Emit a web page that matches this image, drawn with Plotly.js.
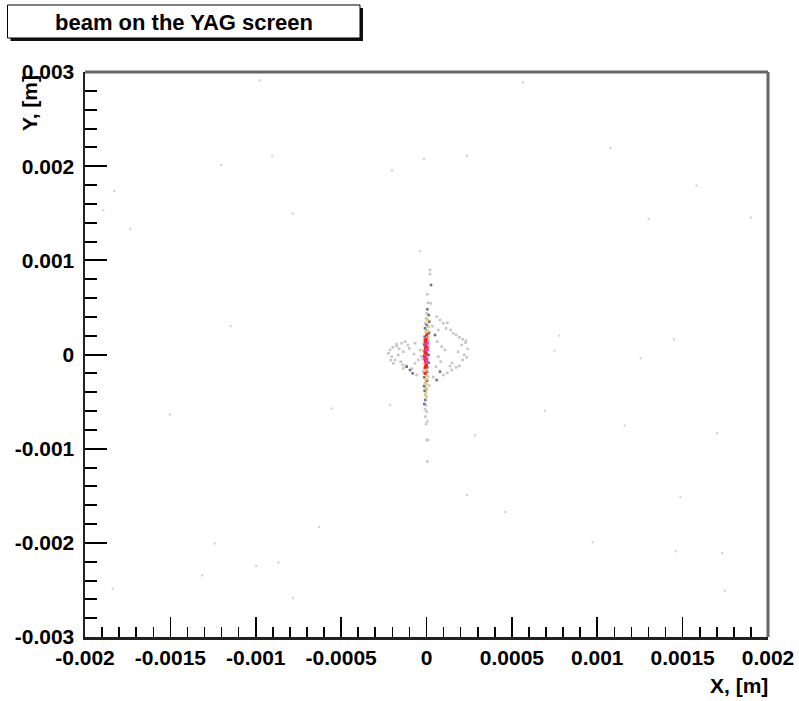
<!DOCTYPE html>
<html>
<head>
<meta charset="utf-8">
<script src="https://cdn.plot.ly/plotly-3.0.1.min.js"></script>
<style>
  html, body { margin: 0; padding: 0; background: #fff; }
  #plot { width: 799px; height: 701px; }
</style>
</head>
<body>
<div id="plot"></div>
<script>
// Beam spot on the YAG screen: particle positions in micrometres, grouped by bin density.
const UM = 1e-6;

// Scattered particles far from the beam core
const haloX = [-977, 564, 1077, -903, -15, 237, -1202, -202, 1582, -1829, -1893, -783, 1301, 1900, -1735, -36,
  -1148, 778, 1449, 750, 1255, -214, -556, -1503, 694, 1161, 1702, 283, 237, 1487, 462, -630, -1240, 974, 1459,
  1732, -867, -997, -1314, -1837, -783, 1747];
const haloY = [2910, 2890, 2192, 2112, 2074, 2112, 2013, 1955, 1794, 1737, 1534, 1496, 1439, 1454, 1335, 1098,
  302, 202, 160, 42, -39, -536, -574, -636, -597, -754, -835, -858, -1493, -1512, -1673, -1834, -2006, -1994, -2090,
  -2109, -2209, -2247, -2346, -2488, -2587, -2507];

// Lowest density bins: ring around the core and sparse tails of the vertical streak
const lowX = [-223.5, -213.7, -204, -198, -184.5, -174.7, -165, -145.4, -135.7, -126, -100.5, -73.2, -67.3, -57.6,
  -47.8, -38, -151.3, -135.7, -194.2, -67.3, -110, -160, -120, -85, -210, -175, -140, -30,
  59.5, 79, 98.6, 122, 114.2, 141.5, 157.1, 172.8, 192.3, 211.8, 231.3, 205.9, 221.5, 235.2, 211.8, 192.3, 172.8,
  147.4, 122, 98.6, 83, 69.3, 55.6, 63.4, 88.8, 108.3, 137.6, 69.3, 240, 228, 185, 150, 40, 35,
  20.5, 20.5, 4.9, 8.8, 24.4, 1.0, -2.9, -6.8, 4.9, 14.6, -22.4, -14.6, 8.8, -8.8, -4.9, -2.9, 1.0, -2.9, -8.8, 1.0,
  -6.8, 4.9, -2.9, 1.0, 8.8, 4.9, 18, -20, 16, -18];
const lowY = [12, 48, -23, 76, -58, 90, -5, 119, 30, 136, 65, 5, -94, -218, -58, 48, -76, -147, -94, 119, 100, 60,
  -120, -150, -60, 110, -110, -20,
  402, 366, 331, 338, 278, 260, 225, 207, 182, 161, 147, 101, -5, -30, -58, -122, -136, -165, -193, -218, -76, -23,
  -129, 136, 83, 48, -122, 260, 60, 125, 30, -90, -240, 300,
  897, 855, 639, 550, 543, 437, 384, 331, 260, 147, -51, -147, -235, -299, -349, -405, -448, -540, -582, -607, -660,
  -713, -738, -908, -908, -1136, 240, -180, -330, 120];

// Second density level
const midX = [-116, -81, 79, 59.5, 49.8, -96.6, 26.4, 4.9, 12.7, 16.6, 1.0, -8.8, 12.7, -10.7, -12.7, 12.7, 12.7,
  4.9, 2.9, -12.7, 2.9, -14.6, -10.7, -6.8, -12.7];
const midY = [-129, -200, -182, -271, 207, -165, 738, 480, 419, 349, 313, 278, 225, 189, 101, -5, -87, -136, -182,
  -242, -278, -335, -384, -483, -526];

// Third density level
const yelX = [4.9, 10.7, -2.9, 8.8, 10.7, -18.6, 4.9, -10.7, -4.9, -1.0, -4.9, -1.0, 1.0, -8.8];
const yelY = [366, 296, 242, 182, 76, 41, -44, -101, -165, -218, -264, -313, -370, -430];

// Fourth density level
const redX = [1.0, -1.0, -4.9, -2.9, -6.8, -8.8, 1.0, -12.7, -6.8, -2.9, -8.8, -8.8, -2.9, 1.0, -6.8, -8.8, -4.9,
  -1.0, -6.8];
const redY = [207, 161, 136, 90, 65, 19, 5, -16, -58, -122, -200, 154, 126, 76, 30, -41, -76, -112, -136];

// Highest density bins
const magX = [4.9, 2.9, -2.9, 1.0, 4.9, 1.0];
const magY = [119, 48, -30, -76, 55, -51];

// Axis tick labels
const xTickVals = [-0.002, -0.0015, -0.001, -0.0005, 0, 0.0005, 0.001, 0.0015, 0.002];
const xTickText = ['-0.002', '-0.0015', '-0.001', '-0.0005', '0', '0.0005', '0.001', '0.0015', '0.002'];
const yTickVals = [-0.003, -0.002, -0.001, 0, 0.001, 0.002, 0.003];
const yTickText = ['-0.003', '-0.002', '-0.001', '0', '0.001', '0.002', '0.003'];

const toM = a => a.map(v => v * UM);

function layer(xs, ys, color, size) {
  return {
    type: 'scatter', mode: 'markers',
    x: toM(xs), y: toM(ys),
    marker: { symbol: 'square', size: size, color: color, line: { width: 0 } },
    hoverinfo: 'skip', cliponaxis: true
  };
}

const traces = [
  layer(haloX, haloY, '#d4d4d4', 2.2),
  layer(lowX, lowY, '#c6c6c6', 2.6),
  layer(midX, midY, '#6c7490', 2.6),
  layer(yelX, yelY, '#e2c850', 2.8),
  layer(redX, redY, '#ff1c1c', 3),
  layer(magX, magY, '#ee34c4', 3)
];

// frame geometry helpers (pixel -> paper)
const L = 85, R = 768, T = 72, B = 637;
const px = x => (x - L) / (R - L);
const py = y => (B - y) / (B - T);

const FONT = 'Liberation Sans, Arial, Helvetica, sans-serif';

const layout = {
  width: 799, height: 701,
  margin: { l: L, r: 799 - R, t: T, b: 701 - B, pad: 0 },
  paper_bgcolor: '#fff', plot_bgcolor: '#fff',
  showlegend: false,
  font: { family: FONT, size: 21, color: '#000' },
  xaxis: {
    range: [-0.002, 0.002], tickmode: 'array', tickvals: xTickVals, ticktext: xTickText,
    ticks: 'inside', ticklen: 20, tickwidth: 1.6, tickcolor: '#000',
    minor: { ticks: 'inside', ticklen: 10, tickwidth: 1.6, tickcolor: '#000', dtick: 0.0001, tick0: -0.002, showgrid: false },
    showgrid: false, zeroline: false, showline: true, linecolor: '#222', linewidth: 2.5,
    tickfont: { family: FONT, size: 21, weight: 'bold', color: '#000' },
    ticklabelstandoff: 0, fixedrange: true
  },
  yaxis: {
    range: [-0.003, 0.003], tickmode: 'array', tickvals: yTickVals, ticktext: yTickText,
    ticks: 'inside', ticklen: 22, tickwidth: 2, tickcolor: '#000',
    minor: { ticks: 'inside', ticklen: 12, tickwidth: 2, tickcolor: '#000', dtick: 0.0002, tick0: -0.003, showgrid: false },
    showgrid: false, zeroline: false, showline: true, linecolor: '#222', linewidth: 2.5,
    tickfont: { family: FONT, size: 21, weight: 'bold', color: '#000' },
    ticklabelstandoff: 4, fixedrange: true
  },
  shapes: [
    // top and right edges of the frame
    { type: 'line', xref: 'paper', yref: 'paper', x0: 0, x1: 1, y0: 1, y1: 1, line: { color: '#666', width: 3 } },
    { type: 'line', xref: 'paper', yref: 'paper', x0: 1, x1: 1, y0: 0, y1: 1, line: { color: '#666', width: 3 } },
    // title box with drop shadow
    { type: 'rect', xref: 'paper', yref: 'paper', x0: px(10.5), x1: px(363), y0: py(41), y1: py(8),
      fillcolor: '#111', line: { width: 0 } },
    { type: 'rect', xref: 'paper', yref: 'paper', x0: px(7.5), x1: px(360), y0: py(38), y1: py(5),
      fillcolor: '#fff', line: { color: '#000', width: 1 } }
  ],
  annotations: [
    { xref: 'paper', yref: 'paper', x: px(184), y: py(22), xanchor: 'center', yanchor: 'middle',
      text: 'beam on the YAG screen', showarrow: false,
      font: { family: FONT, size: 22, weight: 'bold', color: '#000' } },
    { xref: 'paper', yref: 'paper', x: px(29), y: py(103), xanchor: 'center', yanchor: 'middle',
      text: 'Y, [m]', textangle: -90, showarrow: false,
      font: { family: FONT, size: 21, weight: 'bold', color: '#000' } },
    { xref: 'paper', yref: 'paper', x: px(770), y: py(685), xanchor: 'right', yanchor: 'middle',
      text: 'X, [m]', showarrow: false,
      font: { family: FONT, size: 21, weight: 'bold', color: '#000' } }
  ]
};

Plotly.newPlot('plot', traces, layout, { staticPlot: true, displayModeBar: false });
</script>
</body>
</html>
